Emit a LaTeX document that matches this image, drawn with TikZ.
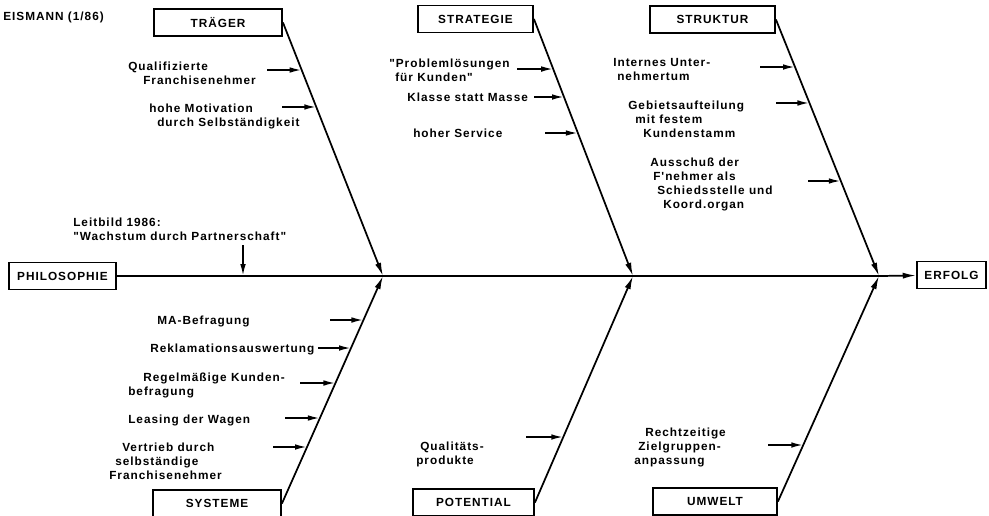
\documentclass[tikz,border=0pt]{standalone}
\usepackage{fontspec}
\usetikzlibrary{arrows.meta,calc}
\newfontfamily\lblface[LetterSpace=8.5]{Liberation Sans}
\newcommand\lblfont{\lblface\bfseries\fontsize{8.85pt}{10.5pt}\selectfont}
% one line of a label block, indented by #1 drawing units
\newdimen\pxu \pxu=0.75pt
\newcommand\tline[2]{\hbox{\kern#1\pxu #2}}
\begin{document}
\begin{tikzpicture}[x=0.75pt,y=-0.75pt,
  lbl/.style={font=\lblfont, inner sep=0pt, anchor=base west},
  cause/.style={draw, line width=1.4pt, inner sep=0pt, minimum height=20.25pt, font=\lblfont},
  bone/.style={line width=1.3pt, -{Latex[length=10pt,width=4.6pt]}},
  sub/.style={line width=1.3pt, -{Latex[length=9pt,width=4.2pt]}},
  spine/.style={line width=1.3pt}]
\useasboundingbox (0,0) rectangle (989,515);

% title
\node[lbl] (title) at (3,20) {EISMANN (1/86)};

% head and tail of the fishbone
\node[cause, minimum width=80.25pt] (phil) at (62.5,276) {PHILOSOPHIE};
\node[cause, minimum width=51.75pt] (erfolg) at (951.5,275) {ERFOLG};

% main causes
\node[cause, minimum width=96pt]    (traeger)  at (218,22.5)   {TRÄGER};
\node[cause, minimum width=86.25pt] (strat)    at (475.5,19)   {STRATEGIE};
\node[cause, minimum width=93.75pt] (strukt)   at (712.5,19.5) {STRUKTUR};
\node[cause, minimum width=96pt]    (systeme)  at (217,503.5)  {SYSTEME};
\node[cause, minimum width=90.75pt] (potent)   at (473.5,502.5){POTENTIAL};
\node[cause, minimum width=93pt]    (umwelt)   at (715,501.5)  {UMWELT};

% junctions on the spine
\coordinate (J1) at (383,276);
\coordinate (J2) at (633,276);
\coordinate (J3) at (879,276);

\draw[spine] (phil) -- (J3);
\draw[bone] (J3) -- (erfolg);
\draw[bone] (traeger.east) -- (J1);
\draw[bone] (strat.east) -- (J2);
\draw[bone] (strukt.east) -- (J3);
\draw[bone] (systeme.east) -- (J1);
\draw[bone] (potent.east) -- (J2);
\draw[bone] (umwelt.east) -- (J3);

% philosophy
\node[lbl] (leit) at (73,226) {\vtop{\tline{0}{Leitbild 1986:}\tline{0}{"Wachstum durch Partnerschaft"}}};
\coordinate (lbs) at (243,245);
\coordinate (lbe) at (243,276);
\draw[sub] (lbs) -- (lbe);

% Träger
\node[lbl] (t1) at (128,70) {\vtop{\tline{0}{Qualifizierte}\tline{15}{Franchisenehmer}}};
\node[lbl] (t2) at (149,112) {\vtop{\tline{0}{hohe Motivation}\tline{8}{durch Selbständigkeit}}};
\coordinate (t1s) at (267,70);
\coordinate (t1e) at ($(traeger.east)!0.1874!(J1)$);
\coordinate (t2s) at (282,107);
\coordinate (t2e) at ($(traeger.east)!0.3333!(J1)$);
\draw[sub] (t1s) -- (t1e);
\draw[sub] (t2s) -- (t2e);

% Strategie
\node[lbl] (s1) at (389,67) {\vtop{\tline{0}{"Problemlösungen}\tline{6}{für Kunden"}}};
\node[lbl] (s2) at (407,101) {Klasse statt Masse};
\node[lbl] (s3) at (413,137) {hoher Service};
\coordinate (s1s) at (517,69);
\coordinate (s1e) at ($(strat.east)!0.1946!(J2)$);
\coordinate (s2s) at (534,97);
\coordinate (s2e) at ($(strat.east)!0.3035!(J2)$);
\coordinate (s3s) at (545,133);
\coordinate (s3e) at ($(strat.east)!0.4436!(J2)$);
\draw[sub] (s1s) -- (s1e);
\draw[sub] (s2s) -- (s2e);
\draw[sub] (s3s) -- (s3e);

% Struktur
\node[lbl] (k1) at (613,66) {\vtop{\tline{0}{Internes Unter-}\tline{4}{nehmertum}}};
\node[lbl] (k2) at (628,109) {\vtop{\tline{0}{Gebietsaufteilung}\tline{7}{mit festem}\tline{15}{Kundenstamm}}};
\node[lbl] (k3) at (650,166) {\vtop{\tline{0}{Ausschuß der}\tline{3}{F'nehmer als}\tline{7}{Schiedsstelle und}\tline{13}{Koord.organ}}};
\coordinate (k1s) at (760,67);
\coordinate (k1e) at ($(strukt.east)!0.1852!(J3)$);
\coordinate (k2s) at (776,103);
\coordinate (k2e) at ($(strukt.east)!0.3255!(J3)$);
\coordinate (k3s) at (808,181);
\coordinate (k3e) at ($(strukt.east)!0.6296!(J3)$);
\draw[sub] (k1s) -- (k1e);
\draw[sub] (k2s) -- (k2e);
\draw[sub] (k3s) -- (k3e);

% Systeme
\node[lbl] (m1) at (157,324) {MA-Befragung};
\node[lbl] (m2) at (150,352) {Reklamationsauswertung};
\node[lbl] (m3) at (128,381) {\vtop{\tline{15}{Regelmäßige Kunden-}\tline{0}{befragung}}};
\node[lbl] (m4) at (128,423) {Leasing der Wagen};
\node[lbl] (m5) at (109,451) {\vtop{\tline{13}{Vertrieb durch}\tline{6}{selbständige}\tline{0}{Franchisenehmer}}};
\coordinate (m1s) at (330,320);
\coordinate (m1e) at ($(systeme.east)!0.8066!(J1)$);
\coordinate (m2s) at (318,348);
\coordinate (m2e) at ($(systeme.east)!0.6835!(J1)$);
\coordinate (m3s) at (300,383);
\coordinate (m3e) at ($(systeme.east)!0.5297!(J1)$);
\coordinate (m4s) at (285,418);
\coordinate (m4e) at ($(systeme.east)!0.3758!(J1)$);
\coordinate (m5s) at (273,447);
\coordinate (m5e) at ($(systeme.east)!0.2484!(J1)$);
\draw[sub] (m1s) -- (m1e);
\draw[sub] (m2s) -- (m2e);
\draw[sub] (m3s) -- (m3e);
\draw[sub] (m4s) -- (m4e);
\draw[sub] (m5s) -- (m5e);

% Potential
\node[lbl] (p1) at (416,450) {\vtop{\tline{4}{Qualitäts-}\tline{0}{produkte}}};
\coordinate (p1s) at (526,437);
\coordinate (p1e) at ($(potent.east)!0.2892!(J2)$);
\draw[sub] (p1s) -- (p1e);

% Umwelt
\node[lbl] (u1) at (634,436) {\vtop{\tline{11}{Rechtzeitige}\tline{4}{Zielgruppen-}\tline{0}{anpassung}}};
\coordinate (u1s) at (768,445);
\coordinate (u1e) at ($(umwelt.east)!0.2506!(J3)$);
\draw[sub] (u1s) -- (u1e);
\end{tikzpicture}
\end{document}
